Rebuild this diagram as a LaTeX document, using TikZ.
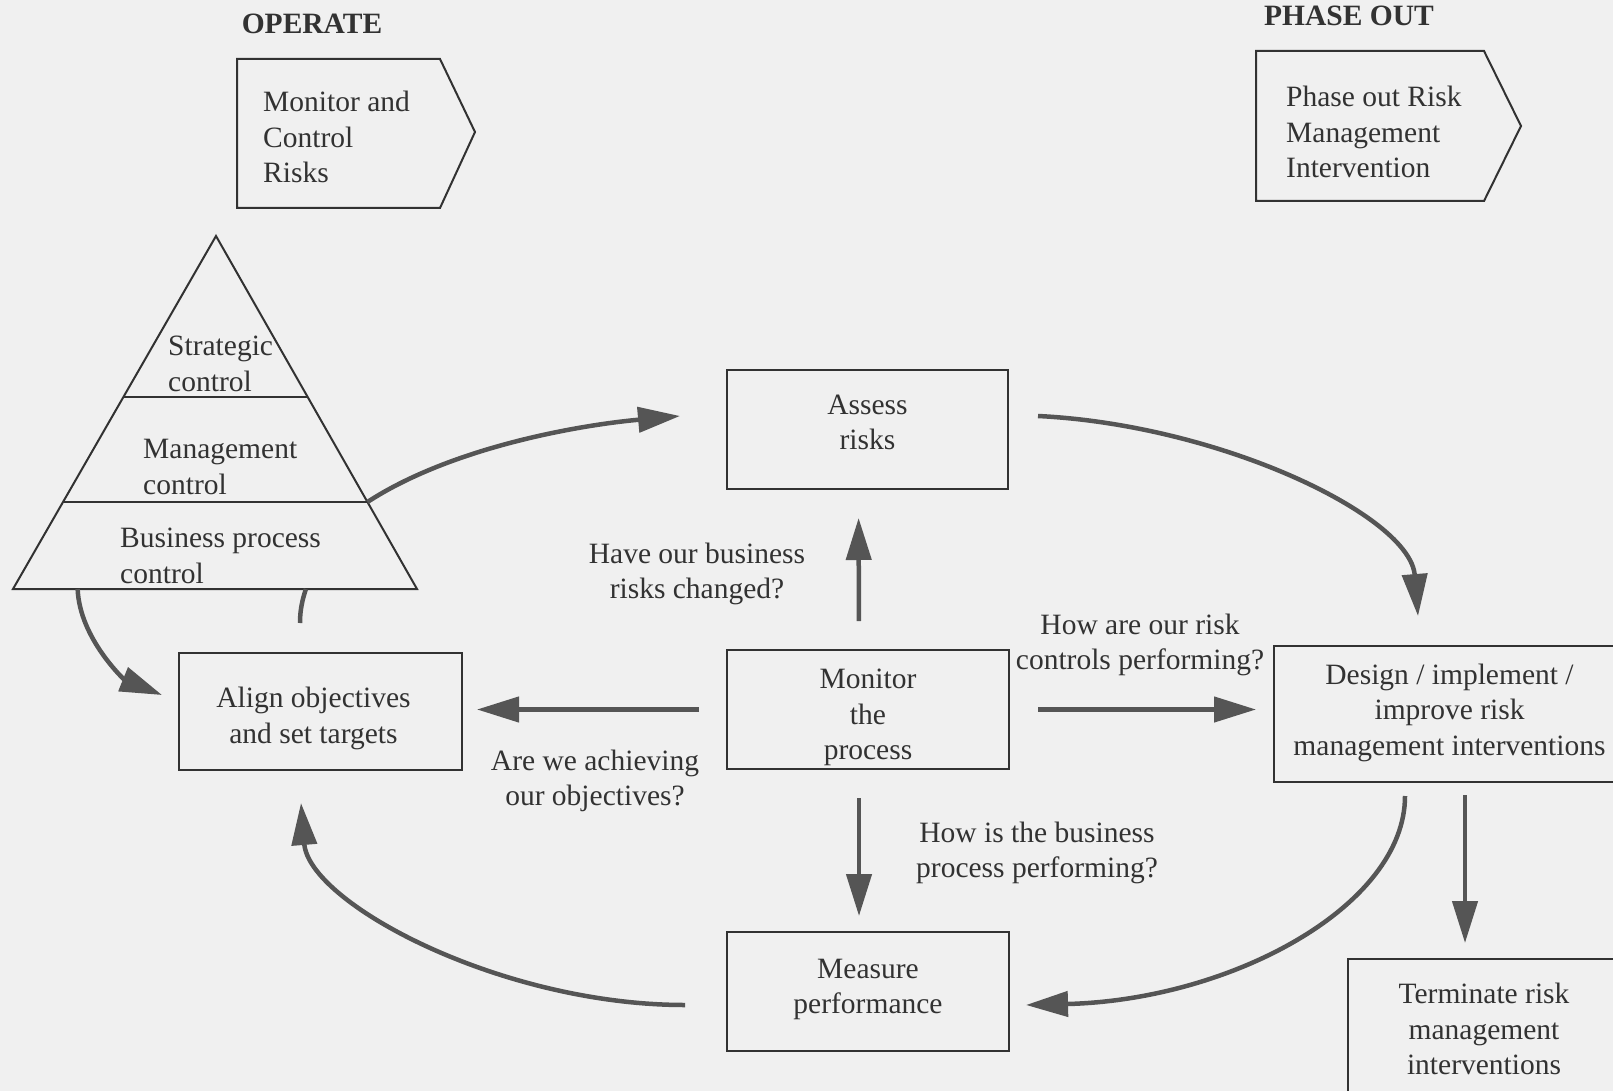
\documentclass[tikz,border=0pt]{standalone}
\usepackage{fontspec}
\setmainfont{Liberation Serif}
\usetikzlibrary{arrows.meta,calc}
\definecolor{paper}{RGB}{240,240,240}
\definecolor{ink}{RGB}{50,50,50}
\definecolor{arrowgray}{RGB}{85,85,85}
\begin{document}
\begin{tikzpicture}[x=1pt,y=-1pt,
  font=\fontsize{29.5}{35.5}\selectfont,
  every node/.style={text=ink},
  box/.style={draw=ink,line width=2pt,inner sep=0pt},
  caption/.style={align=center,inner sep=0pt},
  lefttext/.style={align=left,inner sep=0pt,anchor=west},
  outline/.style={draw=ink,line width=2pt,line join=miter},
  flow/.style={draw=arrowgray,line width=4.5pt,-{Triangle[length=42pt,width=25pt]}},
  stroke/.style={draw=arrowgray,line width=4.5pt},
]
\useasboundingbox (0,0) rectangle (1613,1091);
\clip (0,0) rectangle (1613,1091);
\fill[paper] (0,0) rectangle (1613,1091);

% phase headings and their pentagon tags
\node[caption,font=\fontsize{29.5}{35.5}\selectfont\bfseries] (operate) at (312,24) {OPERATE};
\draw[outline] (237,59) -- (440,59) -- (475,132) -- (440,208) -- (237,208) -- cycle;
\node[lefttext] (monctl) at (263,137) {Monitor and\\Control\\Risks};

\node[caption,font=\fontsize{29.5}{35.5}\selectfont\bfseries] (phaseout) at (1349,16) {PHASE OUT};
\draw[outline] (1256,51) -- (1484,51) -- (1521,126) -- (1484,201) -- (1256,201) -- cycle;
\node[lefttext] (phasetxt) at (1286,132) {Phase out Risk\\Management\\Intervention};

% control pyramid
\coordinate (apex) at (216,236);
\coordinate (bl) at (13,589);
\coordinate (br) at (417,589);
\draw[outline] (apex) -- (bl) -- (br) -- cycle;
\draw[outline] ($(apex)!0.456!(bl)$) -- ($(apex)!0.456!(br)$);
\draw[outline] ($(apex)!0.7535!(bl)$) -- ($(apex)!0.7535!(br)$);
\coordinate (pyrR) at ($(apex)!0.7535!(br)$);
\coordinate (pyrB1) at ($(bl)!0.16!(br)$);
\coordinate (pyrB2) at ($(bl)!0.725!(br)$);
\node[lefttext] (strat) at (168,364) {Strategic\\control};
\node[lefttext] (mgmt) at (143,467) {Management\\control};
\node[lefttext] (bpc) at (120,556) {Business process\\control};

% process boxes
\node[box,minimum width=281pt,minimum height=119pt] (assess) at (867.5,429.5) {};
\node[box,minimum width=282pt,minimum height=119pt] (mon) at (868,709.5) {};
\node[box,minimum width=283pt,minimum height=117pt] (align) at (320.5,711.5) {};
\node[box,minimum width=282pt,minimum height=119pt] (meas) at (868,991.5) {};
\node[box,minimum width=351pt,minimum height=136pt] (design) at (1449.5,714) {};
\node[box,minimum width=272pt,minimum height=140pt] (term) at (1484,1029) {};

% box captions (offsets in picture units, y pointing down)
\node[caption] (assessTxt) at ([shift={(0,-7)}]assess.center) {Assess\\risks};
\node[caption] (monTxt) at ([shift={(0,8)}]mon.center) {Monitor\\the\\process};
\node[caption] (alignTxt) at ([shift={(-7,7)}]align.center) {Align objectives\\and set targets};
\node[caption] (measTxt) at ([shift={(0,-2)}]meas.center) {Measure\\performance};
\node[caption] (designTxt) at ([shift={(0,-1.5)}]design.center) {Design / implement /\\improve risk\\management interventions};
\node[caption] (termTxt) at (term.center) {Terminate risk\\management\\interventions};

% monitoring questions
\node[caption] (q1) at (697,574) {Have our business\\risks changed?};
\node[caption] (q2) at (1140,645) {How are our risk\\controls performing?};
\node[caption] (q3) at (595,781) {Are we achieving\\our objectives?};
\node[caption] (q4) at (1037,853) {How is the business\\process performing?};

% straight flows out of the monitoring box
\draw[flow,shorten <=28pt,shorten >=28pt] ([xshift=-9pt]mon.north) -- ([xshift=-9pt]assess.south);
\draw[flow,shorten <=27pt,shorten >=14pt] (mon.west) -- (mon.west -| align.east);
\draw[flow,shorten <=28pt,shorten >=17pt] (mon.east) -- (mon.east -| design.west);
\draw[flow,shorten <=28pt,shorten >=15pt] ([xshift=-9pt]mon.south) -- ([xshift=-9pt]meas.north);
\draw[flow,shorten <=12pt,shorten >=15pt] ([xshift=15.5pt]design.south) -- ([xshift=15.5pt]design.south |- term.north);

% the outer cycle
\draw[flow] (pyrR) .. controls +(84.5,-55) and +(-100,9) .. ([shift={(-46,-13.5)}]assess.west);
\draw[flow] ([shift={(29,-13.5)}]assess.east) .. controls +(183,9) and +(-8,-100) .. ([shift={(-31.5,-29)}]design.north);
\draw[flow] ([shift={(-44.5,13)}]design.south) .. controls +(0,110) and +(205,-5) .. ([shift={(16,13.5)}]meas.east);
\draw[flow] ([shift={(-41,13.5)}]meas.west) .. controls +(-185,0) and +(8,100) .. ([shift={(-19.5,32)}]align.south);
\draw[flow] (pyrB1) .. controls +(2,50) and +(-37,-15) .. ([shift={(-16,-16.5)}]align.west);
\draw[stroke] (pyrB2) .. controls +(-4,12) and +(0,-12) .. ([shift={(-20.5,-29)}]align.north);
\end{tikzpicture}
\end{document}
